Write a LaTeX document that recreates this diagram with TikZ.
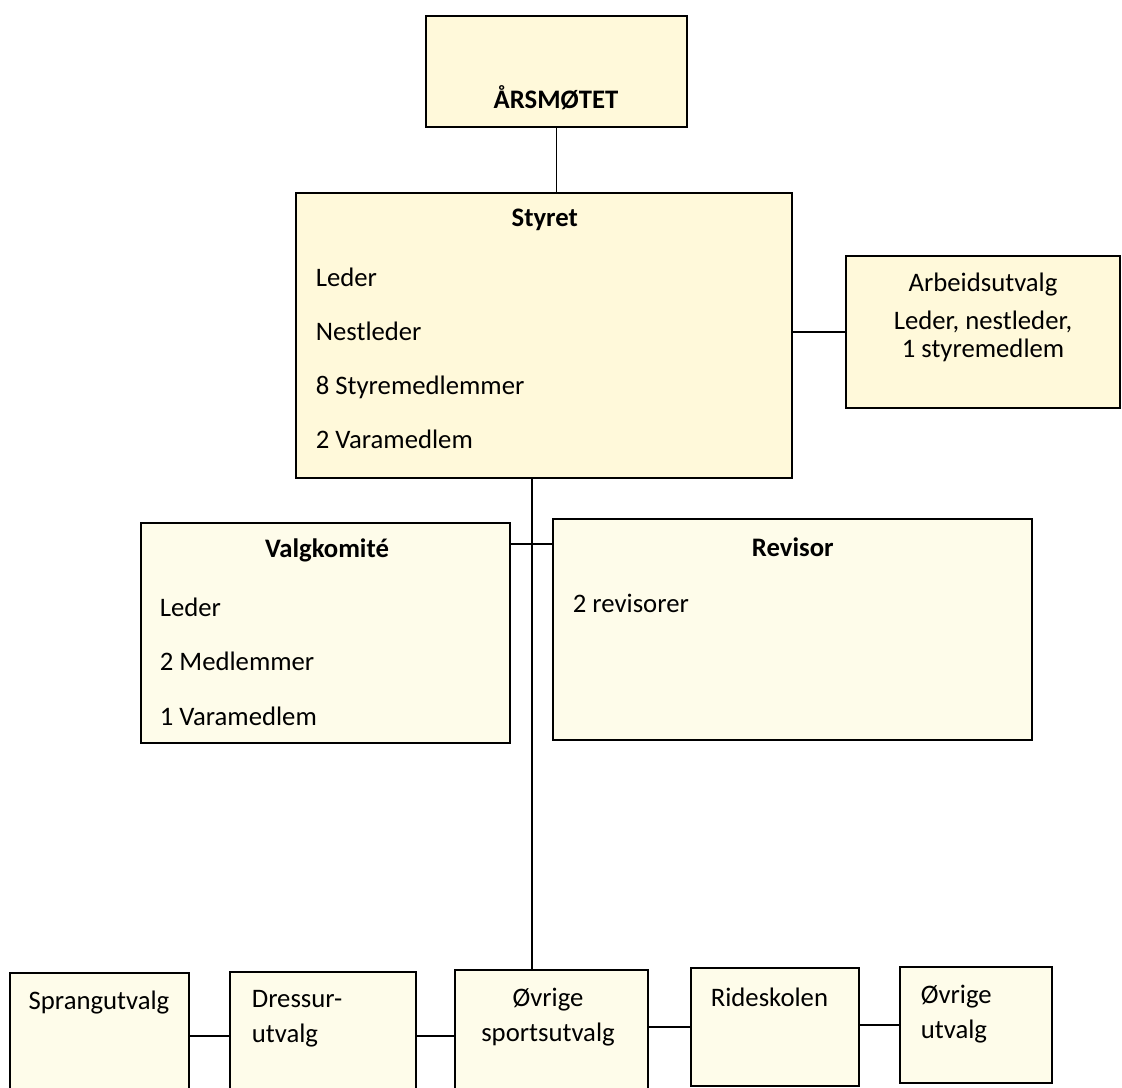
\documentclass[tikz,border=0pt]{standalone}
\usepackage{fontspec}
\setmainfont{Carlito}
\usepackage{xcolor}
\definecolor{boksgul}{HTML}{FFF9DA}
\definecolor{bokslys}{HTML}{FEFCEA}

\begin{document}
\begin{tikzpicture}[-,line width=1.2pt,
    boks/.style={draw, fill=boksgul, rectangle, inner sep=0pt, line width=1.5pt},
    tekst/.style={inner sep=0pt, font=\fontsize{19}{23}\selectfont}]
  \tikzstyle{lysboks}=[boks, fill=bokslys]
  \tikzstyle{tittel}=[tekst, font=\fontsize{19}{23}\selectfont\bfseries]
  \tikzstyle{liste}=[tekst, anchor=west, align=left, font=\fontsize{19}{38.6}\selectfont]
  \tikzstyle{tolinjer}=[tekst, font=\fontsize{19}{25}\selectfont]

  \clip (0,0) rectangle (28.05,-27.2);

  % boksene
  \node[boks, minimum width=6.53cm, minimum height=2.78cm] (arsmote) at (13.91,-1.79) {};
  \node[boks, minimum width=12.4cm, minimum height=7.13cm] (styret) at (13.6,-8.39) {};
  \node[boks, minimum width=6.85cm, minimum height=3.8cm] (arbeid) at (24.575,-8.3) {};
  \node[lysboks, minimum width=9.225cm, minimum height=5.5cm] (valg) at (8.14,-15.825) {};
  \node[lysboks, minimum width=11.975cm, minimum height=5.525cm] (revisor) at (19.81,-15.74) {};
  \node[lysboks, minimum width=4.475cm, minimum height=3.175cm] (sprang) at (2.49,-25.91) {};
  \node[lysboks, minimum width=4.65cm, minimum height=3.2cm] (dressur) at (8.075,-25.9) {};
  \node[lysboks, minimum width=4.825cm, minimum height=3.25cm] (ovrsport) at (13.79,-25.875) {};
  \node[lysboks, minimum width=4.2cm, minimum height=2.95cm] (ride) at (19.375,-25.675) {};
  \node[lysboks, minimum width=3.8cm, minimum height=2.9cm] (ovrige) at (24.4,-25.625) {};

  % tekstene
  \node[tittel] (arsmotenavn) at (13.9,-2.45) {ÅRSMØTET};
  \node[tittel] (styretnavn) at (13.62,-5.5) {Styret};
  \node[liste] (styretliste) at (7.875,-8.96) {Leder\\Nestleder\\8 Styremedlemmer\\2 Varamedlem};
  \node[tekst] (arbeidnavn) at (24.575,-7.125) {Arbeidsutvalg};
  \node[tekst, align=center, font=\fontsize{19}{20}\selectfont] (arbeidliste) at (24.575,-8.4) {Leder, nestleder,\\1 styremedlem};
  \node[tittel] (valgnavn) at (8.175,-13.75) {Valgkomité};
  \node[liste] (valgliste) at (3.975,-16.54) {Leder\\2 Medlemmer\\1 Varamedlem};
  \node[tittel] (revisornavn) at (19.82,-13.675) {Revisor};
  \node[tekst, anchor=west] (revisorliste) at (14.3,-15.075) {2 revisorer};
  \node[tekst] (sprangnavn) at (2.475,-25.075) {Sprangutvalg};
  \node[tolinjer, anchor=west, align=left] (dressurnavn) at (6.275,-25.475) {Dressur-\\utvalg};
  \node[tolinjer, align=center] (ovrsportnavn) at (13.7,-25.425) {Øvrige\\sportsutvalg};
  \node[tekst, anchor=west] (ridenavn) at (17.75,-24.925) {Rideskolen};
  \node[tolinjer, anchor=west, align=left] (ovrigenavn) at (23.0,-25.36) {Øvrige\\utvalg};

  % linjene
  \coordinate (stamme) at (13.3,-12);
  \coordinate (tverr) at (13.3,-13.6);
  \path[draw]
    (arsmote.south) edge (arsmote.south |- styret.north)
    (styret.east |- arbeid.west) edge (arbeid.west)
    (styret.south -| stamme) edge (ovrsport.north -| stamme)
    (valg.east |- tverr) edge (revisor.west |- tverr)
    (sprang.east |- dressur.west) edge (dressur.west)
    (dressur.east) edge (dressur.east -| ovrsport.west)
    (ovrsport.east |- ride.west) edge (ride.west)
    (ride.east |- ovrige.west) edge (ovrige.west);
\end{tikzpicture}
\end{document}
